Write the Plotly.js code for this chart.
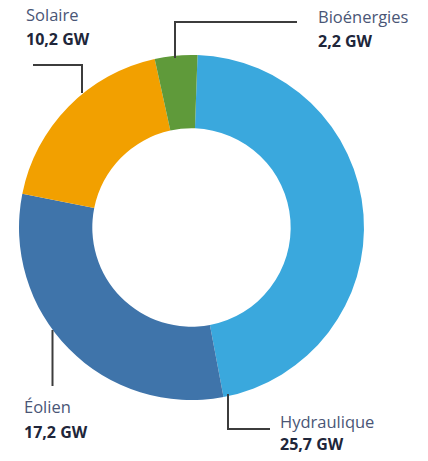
<!DOCTYPE html>
<html>
<head>
<meta charset="utf-8">
<script src="https://cdn.plot.ly/plotly-3.0.1.min.js"></script>
<style>html,body{margin:0;padding:0;background:#fff;}#chart{width:428px;height:461px;}</style>
</head>
<body>
<div id="chart"></div>
<script>
const categories = ["Hydraulique", "Éolien", "Solaire", "Bioénergies"];
const values = [25.7, 17.2, 10.2, 2.2];
const valueLabels = ["25,7 GW", "17,2 GW", "10,2 GW", "2,2 GW"];
const colors = ["#3aa8dd", "#3f74aa", "#f2a000", "#5f9a3a"];

const W = 428, H = 461;
const px = x => x / W;
const py = y => 1 - y / H;

// label placement (pixel positions) per category
const labelPos = {
  "Hydraulique": {x: 278, y1: 421, y2: 444},
  "Éolien": {x: 22, y1: 406, y2: 432},
  "Solaire": {x: 24, y1: 15, y2: 39},
  "Bioénergies": {x: 316, y1: 16, y2: 41}
};
// leader lines (pixel polylines)
const leaders = {
  "Hydraulique": [[228, 394], [228, 429], [270, 429]],
  "Éolien": [[52.5, 330], [52.5, 386]],
  "Solaire": [[33, 65], [82, 65], [82, 93]],
  "Bioénergies": [[175, 58], [175, 22], [297, 22]]
};

const annotations = [];
const shapes = [];
categories.forEach((c, i) => {
  const p = labelPos[c];
  annotations.push({text: c, x: px(p.x), y: py(p.y1), xref: "paper", yref: "paper",
    xanchor: "left", yanchor: "middle", showarrow: false,
    font: {family: "Open Sans", size: 16.5, color: "#4a5676"}});
  annotations.push({text: "<b>" + valueLabels[i] + "</b>", x: px(p.x), y: py(p.y2), xref: "paper", yref: "paper",
    xanchor: "left", yanchor: "middle", showarrow: false,
    font: {family: "Open Sans", size: 16, color: "#20263a"}});
  const pts = leaders[c];
  const path = pts.map((q, k) => (k ? "L" : "M") + px(q[0]) + "," + py(q[1])).join(" ");
  shapes.push({type: "path", xref: "paper", yref: "paper", path: path,
    line: {color: "#3c3c3c", width: 2}});
});

const data = [{
  type: "pie",
  labels: categories,
  values: values,
  marker: {colors: colors, line: {width: 0}},
  hole: 0.575,
  sort: false,
  direction: "clockwise",
  rotation: 2,
  textinfo: "none",
  hoverinfo: "label+value",
  domain: {x: [px(19), px(364)], y: [py(400), py(55)]}
}];

const layout = {
  width: W, height: H,
  margin: {l: 0, r: 0, t: 0, b: 0},
  paper_bgcolor: "#ffffff",
  showlegend: false,
  annotations: annotations,
  shapes: shapes
};

Plotly.newPlot("chart", data, layout, {displayModeBar: false, staticPlot: true});
</script>
</body>
</html>
